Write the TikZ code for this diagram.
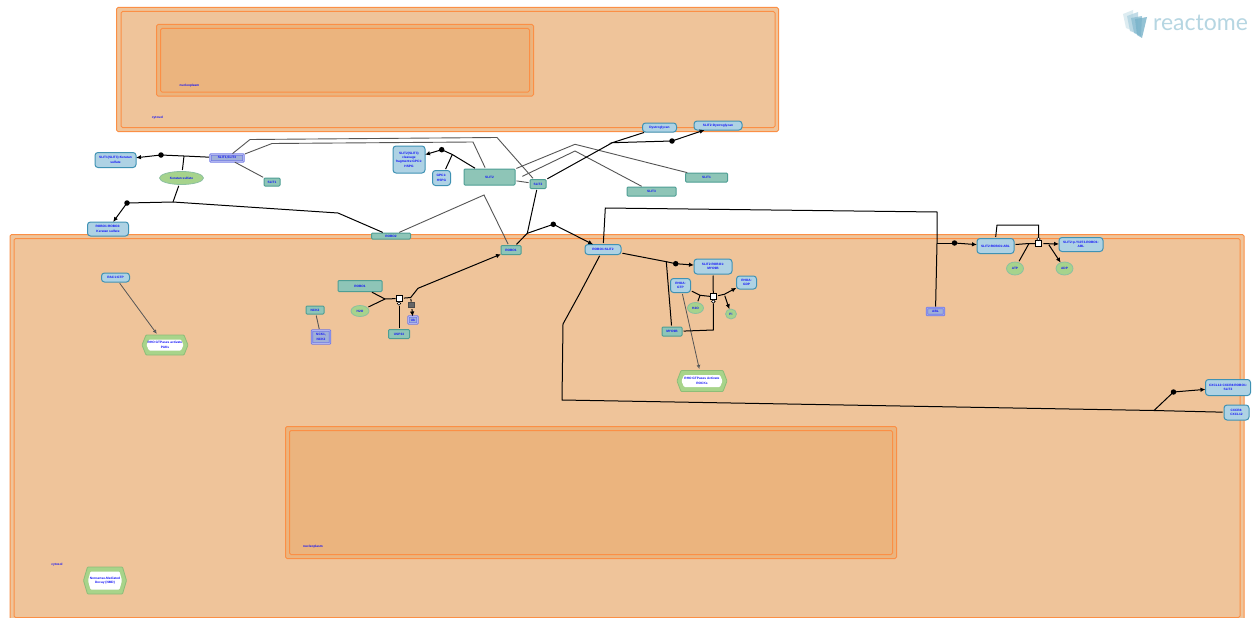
\documentclass[tikz,border=0pt]{standalone}
\usepackage{fontspec}
\setmainfont{Liberation Sans}
\newfontfamily\logofont{Lato}
\usetikzlibrary{arrows.meta,shapes.geometric,calc}
\definecolor{compfill}{HTML}{EFC49A}
\definecolor{nucfill}{HTML}{EBB47E}
\definecolor{compline}{HTML}{FB8F45}
\definecolor{protfill}{HTML}{8EC5B7}
\definecolor{protline}{HTML}{4E9E94}
\definecolor{cplxfill}{HTML}{AED2E4}
\definecolor{cplxline}{HTML}{3F92B4}
\definecolor{setline}{HTML}{6F78E6}
\definecolor{setfill}{HTML}{A0B0D8}
\definecolor{chemfill}{HTML}{A6D38C}
\definecolor{chemline}{HTML}{8CC0A0}
\definecolor{pathfill}{HTML}{A8D48A}
\definecolor{pathline}{HTML}{8DBD78}
\definecolor{lbl}{HTML}{1010F8}
\definecolor{greyline}{HTML}{555555}
\newcommand{\lblfont}{\bfseries\fontsize{3.2}{4.3}\selectfont}
\newcommand{\pathwaynode}[6]{%
  \fill[pathfill,draw=pathline,line width=.8pt,rounded corners=.8pt]
    (#2-#4/2,#3) -- (#2-#4/2+4,#3-#5/2) -- (#2+#4/2-4,#3-#5/2) -- (#2+#4/2,#3) -- (#2+#4/2-4,#3+#5/2) -- (#2-#4/2+4,#3+#5/2) -- cycle;
  \fill[white,rounded corners=1pt]
    (#2-#4/2+4.5,#3) -- (#2-#4/2+7,#3-#5/2+4.5) -- (#2+#4/2-7,#3-#5/2+4.5) -- (#2+#4/2-4.5,#3) -- (#2+#4/2-7,#3+#5/2-4.5) -- (#2-#4/2+7,#3+#5/2-4.5) -- cycle;
  \node[txt,minimum width=#4,minimum height=#5] (#1) at (#2,#3) {#6};}
\tikzset{
  x=1pt,y=-1pt,
  txt/.style={inner sep=0pt,outer sep=0pt,align=center,text=lbl,font=\lblfont},
  wh/.style 2 args={minimum width=#1,minimum height=#2},
  comp/.style={fill=compfill,draw=compline,line width=1pt,rounded corners=1.5pt},
  nuc/.style={fill=nucfill,draw=compline,line width=1pt,rounded corners=1.5pt},
  prot/.style={txt,rectangle,rounded corners=1pt,fill=protfill,draw=protline,line width=1pt},
  cplx/.style={txt,rectangle,rounded corners=3pt,fill=cplxfill,draw=cplxline,line width=1pt},
  setn/.style={txt,rectangle,rounded corners=.6pt,fill=setfill,draw=setline,double=B0B4F0,double distance=.8pt,line width=.8pt},
  chem/.style={txt,ellipse,fill=chemfill,draw=chemline,line width=.8pt},
  blk/.style={line width=1pt,black,shorten <=1.5pt},
  gry/.style={line width=.9pt,greyline,shorten <=1.5pt,shorten >=1.5pt},
  arr/.style={-{Latex[length=5pt,width=4.5pt]}},
  opn/.style={-{Latex[open,length=4pt,width=4pt,fill=white]}},
  dot/.style={circle,fill=black,inner sep=0pt,minimum size=5.5pt},
  rbox/.style={rectangle,fill=white,draw=black,line width=.8pt,inner sep=0pt,minimum size=6pt},
  catc/.style={circle,fill=white,draw=black,line width=.6pt,inner sep=0pt,minimum size=3.6pt},
  cl/.style={inner sep=0pt,text=lbl,font=\lblfont},
}
\definecolor{B0B4F0}{HTML}{B0B4F0}
\begin{document}
\begin{tikzpicture}
\useasboundingbox (0,0) rectangle (1253,618);
\fill[white] (0,0) rectangle (1253,618);
% compartments
\draw[comp] (116.5,7.5) rectangle (778.5,131.5);
\draw[comp] (121,11.5) rectangle (775,127.5);
\draw[nuc] (156.5,24.5) rectangle (533.5,96);
\draw[nuc] (160.5,28.5) rectangle (529.5,92);
\node[cl] (lcyt1) at (157.5,118) {cytosol};
\node[cl] (lnuc1) at (189.5,85.5) {nucleoplasm};
\draw[comp] (10,234.5) rectangle (1244,630);
\draw[comp] (14,238.5) rectangle (1240,617.5);
\draw[nuc] (285.5,426.5) rectangle (896.5,558.5);
\draw[nuc] (289.5,430.5) rectangle (892.5,554.5);
\node[cl] (lnuc2) at (313,546.5) {nucleoplasm};
\node[cl] (lcyt2) at (57,564.5) {cytosol};
% logo
\begin{scope}
\fill[cplxline!25!white,opacity=.7] (1123,14) -- (1133,10) -- (1133,31) -- (1126,28) -- cycle;
\fill[cplxline!40!white,opacity=.8] (1127,16) -- (1138,12) -- (1138,34) -- (1130,31) -- cycle;
\fill[cplxline!60!white,opacity=.8] (1131,18) -- (1142,16) -- (1141,36) -- (1134,33) -- cycle;
\fill[cplxline!70!white,opacity=.8] (1135,19) -- (1147,17) -- (1142,38) -- (1137,35) -- cycle;
\end{scope}
\node[inner sep=0pt,text=cplxline!38!white,font=\logofont\fontsize{23}{24}\selectfont] (logo) at (1200.5,23) {reactome};
% entities
\node[cplx,wh={41}{15}] (kscx) at (115.5,160) {SLIT1(SLIT3):Keratan\\sulfate};
\node[setn,wh={33}{7}] (slits) at (227,158) {SLIT1,SLIT3};
\node[prot,wh={16}{8}] (slita) at (272,182) {SLIT1};
\node[chem,wh={44}{13}] (ks) at (181.5,178) {Keratan sulfate};
\node[cplx,wh={41}{14}] (robks) at (108,229) {ROBO1:ROBO2:\\Keratan sulfate};
\node[prot,wh={39}{6}] (robo2) at (391,236) {ROBO2};
\node[cplx,wh={32}{27}] (frag) at (409,159.5) {SLIT2(SLIT3)\\cleavage\\fragments:GPC1:\\HSPG};
\node[cplx,wh={18}{15}] (gpc) at (441.5,178) {GPC1:\\HSPG};
\node[prot,wh={51}{16}] (slitb) at (489.5,177) {SLIT2};
\node[prot,wh={16}{9}] (slitc) at (538,184) {SLIT2};
\node[prot,wh={49}{9}] (slitd) at (651.5,191.5) {SLIT3};
\node[prot,wh={42}{9}] (slite) at (706.5,177.5) {SLIT1};
\node[cplx,wh={34}{9}] (dag) at (659.5,127.5) {Dystroglycan};
\node[cplx,wh={48}{9}] (sdag) at (718,125.5) {SLIT2:Dystroglycan};
\node[prot,wh={20}{9}] (roboa) at (511,250) {ROBO1};
\node[cplx,wh={36}{10}] (rs) at (603,249.5) {ROBO1:SLIT2};
\node[cplx,wh={38}{15}] (srm) at (713,266.5) {SLIT2:ROBO1:\\MYO9B};
\node[cplx,wh={20}{14}] (rhogtp) at (680.5,285.5) {RHOA:\\GTP};
\node[cplx,wh={20}{13}] (rhogdp) at (746.5,282.5) {RHOA:\\GDP};
\node[chem,wh={16}{11}] (wata) at (695.5,308) {H2O};
\node[chem,wh={11}{10}] (pi) at (731,314) {Pi};
\node[prot,wh={20}{9}] (myo) at (672,331.5) {MYO9B};
\pathwaynode{rock}{702}{381}{50}{21}{RHO GTPases Activate\\ROCKs}
\node[cplx,wh={28}{9}] (rac) at (115.5,277.5) {RAC1:GTP};
\pathwaynode{pak}{165}{345}{46}{20}{RHO GTPases activate\\PAKs}
\node[prot,wh={44}{11}] (robob) at (360,286) {ROBO1};
\node[chem,wh={18}{11}] (watb) at (360,311) {H2O};
\node[prot,wh={18}{8}] (nckp) at (315,310) {NCK2};
\node[setn,wh={18}{13}] (nck) at (321,337) {NCK1,\\NCK2};
\node[prot,wh={21}{9}] (usp) at (399,334) {USP33};
\node[setn,wh={9}{7}] (ub) at (413,320) {Ub};
\node[setn,wh={17}{7}] (abl) at (935.5,311.5) {ABL};
\node[cplx,wh={37}{15}] (sra) at (995.5,246) {SLIT2:ROBO1:ABL};
\node[cplx,wh={44}{14}] (spra) at (1081,244.5) {SLIT2:p-Y1073-ROBO1:\\ABL};
\node[chem,wh={17}{13}] (atp) at (1015,268.5) {ATP};
\node[chem,wh={17}{13}] (adp) at (1064.5,268.5) {ADP};
\node[cplx,wh={45}{16}] (cxs) at (1228,387.5) {CXCL12:CXCR4:ROBO1:\\SLIT2};
\node[cplx,wh={25}{15}] (cx) at (1236.5,412.5) {CXCR4:\\CXCL12};
\pathwaynode{nmd}{105}{580.5}{43}{27}{Nonsense-Mediated\\Decay (NMD)}
% junction points
\coordinate (j1) at (184,156);
\coordinate (j2) at (173,202);
\coordinate (b2) at (338,213);
\coordinate (g1) at (250,139.5);
\coordinate (g2) at (497,137.5);
\coordinate (g3) at (272,143.5);
\coordinate (g4) at (473,142);
\coordinate (j3) at (452.3,154.5);
\coordinate (g5) at (575,144.3);
\coordinate (g6) at (575,151);
\coordinate (g7) at (484,195);
\coordinate (j4) at (527.3,233.3);
\coordinate (j5) at (612.3,142.7);
\coordinate (j6) at (605.3,208);
\coordinate (j7) at (937,212);
\coordinate (j8) at (937,243);
\coordinate (j9) at (1029,243.5);
\coordinate (j10) at (1048,243.5);
\coordinate (c1) at (997,225);
\coordinate (c2) at (1038.5,225);
\coordinate (j11) at (385,299);
\coordinate (j12) at (410.7,297.5);
\coordinate (j13) at (418,288.3);
\coordinate (j14) at (666.3,261.7);
\coordinate (j15) at (700,295.3);
\coordinate (j16) at (724.3,294.3);
\coordinate (m1) at (713.3,330);
\coordinate (k1) at (580,293);
\coordinate (k2) at (563,324);
\coordinate (k3) at (562,400);
\coordinate (j17) at (1154,410.5);
% reaction knots and dots
\node[dot] (d1) at (161,155) {};
\node[dot] (d2) at (127,203) {};
\node[dot] (d3) at (441.7,149.7) {};
\node[dot] (d4) at (553.3,224.3) {};
\node[dot] (d5) at (672,141) {};
\node[dot] (d6) at (954.5,243) {};
\node[dot] (d7) at (675.7,263.7) {};
\node[dot] (d8) at (1173.5,392) {};
% connectors
\draw[blk] (slits) -- (j1) -- (d1.center);
\draw[blk,arr] (d1.center) -- (kscx);
\draw[blk,shorten >=0pt] (ks) -- (j1);
\draw[blk,shorten >=0pt] (ks) -- (j2);
\draw[blk] (robo2) -- (b2) -- (j2) -- (d2.center);
\draw[blk,arr] (d2.center) -- (robks);
\draw[gry] (slits) -- (g1) -- (g2) -- (slitc);
\draw[gry] (slits.north east) -- (g3) -- (g4) -- (slitb);
\draw[gry] (slits) -- (slita);
\draw[blk] (slitb) -- (j3) -- (d3.center);
\draw[blk,arr] (d3.center) -- (frag);
\draw[blk,shorten >=0pt] (gpc) -- (j3);
\draw[gry] (slitb) -- (slitc);
\draw[gry] (slitb.north east) -- (g5) -- (slite);
\draw[gry] ([xshift=6pt]slitb.east) -- (g6) -- (slitd);
\draw[gry] (robo2) -- (g7) -- (roboa);
\draw[blk] (slitc) -- (j4);
\draw[blk] (roboa) -- (j4) -- (d4.center);
\draw[blk,arr] (d4.center) -- (rs);
\draw[blk] (slitc) -- (j5);
\draw[blk] (dag) -- (j5) -- (d5.center);
\draw[blk,arr] (d5.center) -- (sdag);
\draw[blk] (rs) -- (j6) -- (j7) -- (j8);
\draw[blk] (abl) -- (j8);
\draw[blk,shorten <=0pt] (j8) -- (d6.center);
\draw[blk,arr] (d6.center) -- (sra);
% ABL phosphorylation
\node[rbox] (ra) at (1038.5,243.5) {};
\node[catc] (ca) at (1038.5,239) {};
\draw[blk] (sra) -- (j9) -- (ra);
\draw[blk] (atp) -- (j9);
\draw[blk,arr] (ra) -- (spra);
\draw[blk,arr] (j10) -- (adp);
\draw[blk] (sra.north) -- (c1) -- (c2) -- (ca);
% left reaction
\node[rbox] (rb) at (399,298.5) {};
\node[catc] (cb) at (399,303.5) {};
\node[rectangle,fill=white!40!black,draw=black!70,line width=.6pt,inner sep=0pt,minimum size=5.5pt] (rc) at (411.5,304.7) {};
\draw[blk] (robob) -- (j11) -- (rb);
\draw[blk] (watb) -- (j11);
\draw[blk] (usp) -- (cb);
\draw[blk,arr] (rb) -- (j12) -- (j13) -- (roboa);
\draw[blk] (j12) -- (rc);
\draw[blk,arr] (rc) -- (ub);
\draw[gry] (nckp) -- (nck);
\draw[gry,opn,line width=.8pt] (rac) -- (pak);
\draw[gry,opn,line width=.8pt] (rhogtp) -- (rock);
% RHOA reaction
\draw[blk] (rs) -- (j14) -- (d7.center);
\draw[blk,arr] (d7.center) -- (srm);
\draw[blk] (myo) -- (j14);
\node[rbox] (rr) at (713.3,296.7) {};
\node[catc] (cr) at (713.3,301.5) {};
\draw[blk] (rhogtp) -- (j15) -- (rr);
\draw[blk] (wata) -- (j15);
\draw[blk,arr] (rr) -- (j16) -- (rhogdp);
\draw[blk,arr] (j16) -- (pi);
\draw[blk] (srm) -- (rr);
\draw[blk] (myo) -- (m1) -- (cr);
% CXCR4
\draw[blk] (rs) -- (k1) -- (k2) -- (k3) -- (j17);
\draw[blk] (cx) -- (j17) -- (d8.center);
\draw[blk,arr] (d8.center) -- (cxs);
\end{tikzpicture}
\end{document}
